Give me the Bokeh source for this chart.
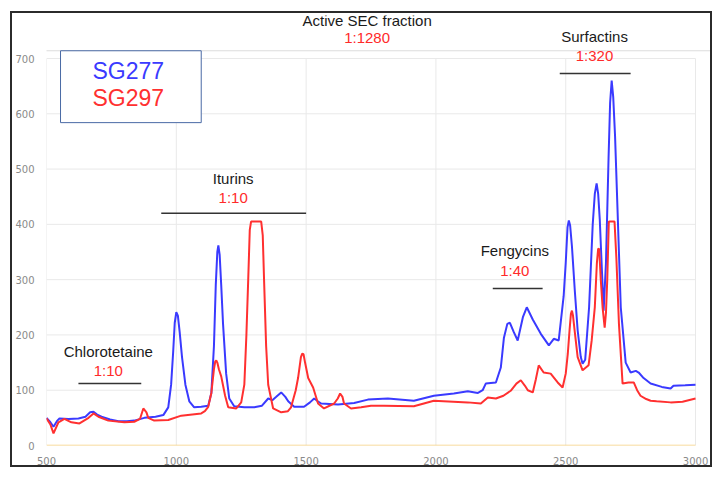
from bokeh.plotting import figure
from bokeh.models import FixedTicker, Range1d
from bokeh.core.properties import value
from bokeh.embed import file_html
from bokeh.resources import INLINE

# ---- data ----
sg277_x = [500, 515, 527, 540, 550, 585, 623, 650, 668, 681, 695, 712, 745, 777, 810, 838, 877, 920, 950,
           969, 980, 988, 994, 1000, 1006, 1013, 1022, 1035, 1050, 1069, 1096, 1123, 1135, 1145, 1152, 1158,
           1162, 1167, 1173, 1180,
           1192, 1204, 1223, 1262, 1300, 1330, 1354, 1370, 1385, 1404, 1420, 1431, 1454, 1492, 1515, 1531,
           1545, 1558, 1623, 1685, 1738, 1815, 1915, 1992, 2069, 2123, 2150, 2162, 2180, 2192, 2231, 2250,
           2262, 2275, 2285, 2300, 2315, 2335, 2350, 2373, 2404, 2435, 2454, 2473, 2492, 2500, 2507, 2512,
           2517, 2524, 2535, 2546, 2558, 2565, 2575, 2590, 2604, 2612, 2619, 2625, 2631, 2640, 2646, 2655,
           2665, 2671, 2677, 2683, 2690, 2700,
           2712, 2731, 2750, 2770, 2781, 2800, 2827, 2870, 2904, 2915, 2960, 3000]
sg277_y = [50, 42, 34, 44, 49, 48, 49, 52, 60, 61, 56, 52, 47, 44, 44, 45, 50, 52, 55,
           69, 110, 170, 222, 241, 235, 205, 160, 110, 80, 69, 70, 72, 95, 180, 290, 350,
           362, 345, 290, 220,
           130, 85, 71, 69, 69, 72, 85, 82, 88, 96, 88, 80, 70, 70, 78, 85,
           80, 76, 74, 77, 83, 85, 81, 90, 94, 98, 96, 95, 100, 112, 114, 141,
           195, 220, 222, 205, 190, 232, 250, 228, 202, 181, 193, 190, 270, 330, 395, 407,
           398, 360, 280, 208, 160, 148, 155, 250, 400, 455, 474, 455, 410, 310, 244, 330,
           520, 620, 660, 630, 560, 420,
           250, 150, 132, 135, 132, 122, 112, 106, 103, 108, 109, 110]

sg297_x = [500, 515, 527, 546, 569, 596, 627, 662, 681, 700, 738, 800, 838, 860, 873, 885, 892, 915, 969,
           1019, 1096, 1110, 1123, 1135, 1145, 1150, 1154, 1158, 1164, 1173, 1188, 1200, 1231, 1250, 1262,
           1270, 1277, 1283, 1288, 1327, 1333, 1338, 1346, 1354, 1373, 1404, 1430, 1442, 1460, 1469, 1480,
           1485, 1490, 1496, 1508, 1527, 1546, 1569, 1608, 1622, 1631, 1640, 1646, 1673, 1712, 1750, 1800,
           1915, 1992, 2123, 2173, 2200, 2231, 2260, 2288, 2310, 2327, 2343, 2354, 2373, 2385, 2396, 2415,
           2442, 2469, 2488, 2500, 2508, 2515, 2520, 2524, 2528, 2535, 2546, 2565, 2588, 2600, 2612, 2620,
           2625, 2629, 2635, 2642, 2650, 2655, 2660, 2666, 2688, 2695, 2705, 2719, 2742, 2762, 2775, 2788,
           2810, 2827, 2850, 2904, 2950, 3000]
sg297_y = [49, 38, 22, 42, 48, 42, 40, 50, 58, 52, 45, 42, 43, 48, 67, 60, 50, 45, 46,
           54, 58, 62, 70, 95, 138, 152, 154, 150, 138, 125, 90, 69, 67, 78, 110,
           200, 300, 390, 405, 405, 380, 300, 180, 110, 67, 60, 62, 69, 100, 122, 160,
           166, 165, 150, 122, 105, 76, 67, 76, 85, 94, 88, 76, 67, 69, 72, 72,
           71, 81, 78, 76, 87, 85, 90, 99, 112, 118, 108, 100, 96, 120, 145, 132,
           130, 114, 105, 130, 166, 210, 238, 244, 235, 205, 160, 136, 145, 190, 250, 330,
           356, 355, 300, 250, 213, 240, 300, 405, 405, 340, 220, 112, 114, 114, 100, 90,
           84, 81, 80, 78, 79, 85]

x_ticks = [500, 1000, 1500, 2000, 2500, 3000]
y_ticks = [0, 100, 200, 300, 400, 500, 600, 700]

series_names = ["SG277", "SG297"]
series_colors = ["#3a3aff", "#ff3030"]

groups = ["Active SEC fraction", "Surfactins", "Fengycins", "Iturins", "Chlorotetaine"]
dilutions = ["1:1280", "1:320", "1:40", "1:10", "1:10"]

# ---- layout constants (pixels) ----
W, H = 702, 456
X0, X1 = 500, 3000
Y0, Y1 = 0, 700
px_per_x = 650 / (X1 - X0)
px_per_y = 387 / (Y1 - Y0)
frame_w = W - 33
frame_h = H - 2 - 24
x_end = X0 + frame_w / px_per_x
y_end = Y0 + frame_h / px_per_y

p = figure(width=W, height=H, output_backend="svg", toolbar_location=None, title=None,
           x_range=Range1d(X0, x_end), y_range=Range1d(Y0, y_end))
p.min_border_left = 33
p.min_border_right = 0
p.min_border_top = 2
p.min_border_bottom = 24
p.outline_line_color = None
p.background_fill_color = "white"
p.border_fill_color = "white"
p.styles = {"margin-left": "10px", "margin-top": "11px", "border": "2px solid #2b2b2b"}

for ax in (p.xaxis[0], p.yaxis[0]):
    ax.axis_line_color = None
    ax.major_tick_line_color = None
    ax.minor_tick_line_color = None
    ax.major_tick_out = 0
    ax.major_tick_in = 0
    ax.minor_tick_out = 0
    ax.major_label_text_font = "DejaVu Sans"
    ax.major_label_text_font_size = "10px"
    ax.major_label_text_color = "#8a8a8a"
p.xaxis.ticker = FixedTicker(ticks=x_ticks)
p.yaxis.ticker = FixedTicker(ticks=y_ticks)
p.xaxis.major_label_standoff = 11
p.yaxis.major_label_standoff = 12
p.grid.visible = False

# grid lines limited to the data area
p.segment(x0=x_ticks, y0=[Y0] * len(x_ticks), x1=x_ticks, y1=[Y1] * len(x_ticks),
          line_color="#e9e9e9", line_width=1)
p.segment(x0=[X0] * (len(y_ticks) - 1), y0=y_ticks[1:], x1=[X1] * (len(y_ticks) - 1), y1=y_ticks[1:],
          line_color="#e9e9e9", line_width=1)
p.segment(x0=[X0], y0=[0], x1=[X1], y1=[0], line_color="#f6cf7e", line_width=1.5)

# separator line of the picture
p.segment(x0=[X0 - 200], y0=[714], x1=[x_end + 100], y1=[714], line_color="#dcdcdc", line_width=1)

p.line(sg277_x, sg277_y, line_color=series_colors[0], line_width=2)
p.line(sg297_x, sg297_y, line_color=series_colors[1], line_width=2)

# legend box
p.quad(left=[554], right=[1096], top=[714], bottom=[584], fill_color="white",
       line_color="#4a6aa5", line_width=1)
p.text(x=[815, 815], y=[678, 628], text=series_names, text_color=series_colors,
       text_font=value("Liberation Sans"), text_font_size="23px", text_align="center",
       text_baseline="middle")

# annotations
pos_x = [1735, 2611, 2304, 1219, 738]
name_y = [769, 740, 353, 483, 170]
dil_y = [738, 705, 317, 449, 136]
p.text(x=pos_x, y=name_y, text=groups, text_color="#1a1a1a", text_font=value("Liberation Sans"),
       text_font_size="15px", text_align="center", text_baseline="middle")
p.text(x=pos_x, y=dil_y, text=dilutions, text_color="#ff2a2a", text_font=value("Liberation Sans"),
       text_font_size="15px", text_align="center", text_baseline="middle")

bar_x0 = [2477, 2219, 942, 623]
bar_x1 = [2750, 2411, 1500, 865]
bar_y = [673, 284, 420, 112]
p.segment(x0=bar_x0, y0=bar_y, x1=bar_x1, y1=bar_y, line_color="#333333", line_width=1.5)

open("out.html", "w").write(file_html(p, INLINE))
